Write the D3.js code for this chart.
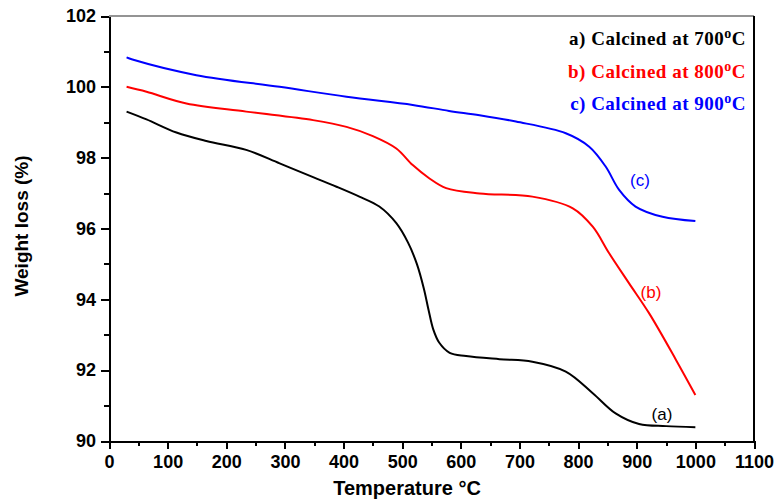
<!DOCTYPE html>
<html lang="en">
<head>
<meta charset="utf-8">
<title>TGA curves</title>
<style>
body{
  margin: 0;
  background: #fff;
}
.axis path, .axis line{
  fill: none;
  stroke: #000;
  stroke-width: 2px;
  shape-rendering: crispEdges;
}
.axis text{
  font: bold 18px "Liberation Sans", Arial, sans-serif;
  fill: #000;
}
.legend text{
  font: bold 19px "Liberation Serif", "Times New Roman", serif;
  letter-spacing: 0.5px;
}
.tag{
  font: 17px "Liberation Sans", Arial, sans-serif;
}
</style>
</head>
<body>
<div id="chart"></div>
<script src="https://d3js.org/d3.v7.min.js"></script>
<script>
  // (a) calcined at 700 C
  const tempA = [30, 64, 115, 166, 234, 291, 348, 388, 427, 461, 490, 510, 525, 537, 545, 553, 563, 581, 609, 666, 722, 779, 825, 864, 904, 950, 1000];
  const lossA = [99.30, 99.08, 98.71, 98.47, 98.22, 97.84, 97.45, 97.18, 96.90, 96.62, 96.15, 95.60, 95.00, 94.30, 93.70, 93.15, 92.78, 92.49, 92.40, 92.31, 92.24, 91.96, 91.35, 90.78, 90.48, 90.42, 90.39];

  // (b) calcined at 800 C
  const tempB = [30, 64, 132, 234, 348, 405, 450, 490, 518, 546, 575, 632, 722, 791, 825, 853, 887, 921, 967, 1000];
  const lossB = [100.0, 99.86, 99.53, 99.30, 99.06, 98.87, 98.61, 98.26, 97.79, 97.42, 97.14, 96.99, 96.90, 96.57, 96.05, 95.30, 94.45, 93.61, 92.29, 91.30];

  // (c) calcined at 900 C
  const tempC = [30, 40, 149, 291, 405, 518, 580, 632, 694, 779, 819, 847, 870, 898, 944, 1000];
  const lossC = [100.83, 100.77, 100.33, 100.0, 99.72, 99.49, 99.32, 99.20, 99.02, 98.69, 98.31, 97.75, 97.09, 96.62, 96.33, 96.21];

  const legendLabels = ["a) Calcined at 700", "b) Calcined at 800", "c) Calcined at 900"];
  const curveTags = ["(a)", "(b)", "(c)"];
  const colors = ["#000000", "#ff0000", "#0000ff"];

  const xMajor = d3.range(0, 1101, 100);
  const xMinor = d3.range(50, 1100, 100);
  const yMajor = [90, 92, 94, 96, 98, 100, 102];
  const yMinor = [91, 93, 95, 97, 99, 101];

  const width = 778;
  const height = 500;
  const margin = { top: 16, right: 24, bottom: 59, left: 109 };

  const series = [
    { t: tempA, w: lossA },
    { t: tempB, w: lossB },
    { t: tempC, w: lossC }
  ];

  const svg = d3.select("#chart")
    .append("svg")
    .attr("width", width)
    .attr("height", height);

  const x = d3.scaleLinear()
    .domain([0, 1100])
    .range([margin.left, width - margin.right]);

  const y = d3.scaleLinear()
    .domain([90, 102])
    .range([height - margin.bottom, margin.top]);

  // frame: grey top, black right
  svg.append("line")
    .attr("x1", x(0)).attr("x2", x(1100))
    .attr("y1", y(102)).attr("y2", y(102))
    .attr("stroke", "#707070").attr("stroke-width", 1.5);
  svg.append("line")
    .attr("x1", x(1100)).attr("x2", x(1100))
    .attr("y1", y(102)).attr("y2", y(90))
    .attr("stroke", "#000").attr("stroke-width", 2);

  // minor ticks
  svg.append("g")
    .attr("class", "axis")
    .attr("transform", `translate(0,${y(90)})`)
    .call(d3.axisBottom(x).tickValues(xMinor).tickSize(5).tickFormat(""))
    .call(g => g.select(".domain").remove());
  svg.append("g")
    .attr("class", "axis")
    .attr("transform", `translate(${x(0)},0)`)
    .call(d3.axisLeft(y).tickValues(yMinor).tickSize(5).tickFormat(""))
    .call(g => g.select(".domain").remove());

  // major axes
  svg.append("g")
    .attr("class", "axis")
    .attr("transform", `translate(0,${y(90)})`)
    .call(d3.axisBottom(x).tickValues(xMajor).tickFormat(d3.format("d"))
      .tickSize(8).tickSizeOuter(0).tickPadding(6));
  svg.append("g")
    .attr("class", "axis")
    .attr("transform", `translate(${x(0)},0)`)
    .call(d3.axisLeft(y).tickValues(yMajor).tickFormat(d3.format("d"))
      .tickSize(8).tickSizeOuter(0).tickPadding(5));

  // curves
  const line = d3.line()
    .x(d => x(d[0]))
    .y(d => y(d[1]))
    .curve(d3.curveCatmullRom.alpha(0.5));

  series.forEach((s, i) => {
    svg.append("path")
      .datum(d3.zip(s.t, s.w))
      .attr("fill", "none")
      .attr("stroke", colors[i])
      .attr("stroke-width", 2)
      .attr("d", line);
  });

  // curve tags
  const tagPos = [[662, 414], [651, 292], [640, 180]];
  curveTags.forEach((t, i) => {
    svg.append("text")
      .attr("class", "tag")
      .attr("x", tagPos[i][0])
      .attr("y", tagPos[i][1])
      .attr("dy", "0.35em")
      .attr("text-anchor", "middle")
      .attr("fill", colors[i])
      .text(t);
  });

  // legend
  const legend = svg.append("g").attr("class", "legend");
  legendLabels.forEach((l, i) => {
    const txt = legend.append("text")
      .attr("x", 746)
      .attr("y", 45 + i * 32.5)
      .attr("text-anchor", "end")
      .attr("fill", colors[i]);
    txt.append("tspan").text(l);
    txt.append("tspan").attr("dy", -7).attr("font-size", 14).text("o");
    txt.append("tspan").attr("dy", 7).text("C");
  });

  // axis titles
  svg.append("text")
    .attr("x", 407)
    .attr("y", 495)
    .attr("text-anchor", "middle")
    .style("font", "bold 20px 'Liberation Sans', Arial, sans-serif")
    .text("Temperature \u00B0C");

  svg.append("text")
    .attr("transform", `translate(28,226) rotate(-90)`)
    .attr("text-anchor", "middle")
    .style("font", "bold 19px 'Liberation Sans', Arial, sans-serif")
    .text("Weight loss (%)");
</script>
</body>
</html>
